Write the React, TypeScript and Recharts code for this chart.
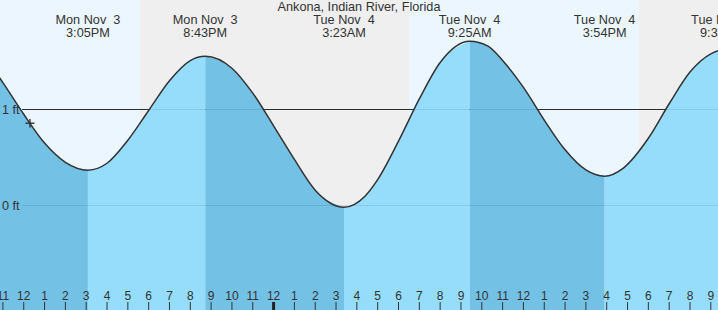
import React from "react";
import { ComposedChart, XAxis, YAxis, Area, Line, Scatter } from "recharts";

// Hours relative to Tue Nov 4, 00:00
const X_DOMAIN: [number, number] = [-13.14, 21.345];
const Y_DOMAIN: [number, number] = [-1.0885, 2.1406];

const TITLE = "Ankona, Indian River, Florida";

// Tide curve (hours, feet)
const TIDE_HOURS = [
  -14, -13, -12, -11, -10, -8.917, -8, -7, -6, -5, -4, -3.283, -2, -1, 0, 1, 2, 3.383, 4.4, 5, 6, 7, 8, 9.417, 10.3,
  11, 12, 13, 14, 15, 15.9, 16.8, 18, 19, 20, 21, 21.533, 22,
];
const TIDE_FT = [
  1.59, 1.28, 0.95, 0.65, 0.45, 0.368, 0.44, 0.68, 0.99, 1.3, 1.51, 1.555, 1.43, 1.17, 0.83, 0.48, 0.16, -0.018, 0.1,
  0.27, 0.67, 1.11, 1.49, 1.711, 1.66, 1.51, 1.23, 0.89, 0.58, 0.37, 0.305, 0.39, 0.7, 1.06, 1.39, 1.58, 1.62, 1.6,
];

// High / low tides
const EXTREME_HOURS = [-8.917, -3.283, 3.383, 9.417, 15.9, 21.533];
const EXTREME_FT = [0.368, 1.555, -0.018, 1.711, 0.305, 1.62];
const EXTREME_DAY = ["Mon Nov  3", "Mon Nov  3", "Tue Nov  4", "Tue Nov  4", "Tue Nov  4", "Tue Nov  4"];
const EXTREME_TIME = ["3:05PM", "8:43PM", "3:23AM", "9:25AM", "3:54PM", "9:32PM"];

// Falling (high -> low) / rising (low -> high) segments
const SEGMENT_START = [-14, -8.917, -3.283, 3.383, 9.417, 15.9];
const SEGMENT_END = [-8.917, -3.283, 3.383, 9.417, 15.9, 22];
const SEGMENT_FALLING = [true, false, true, false, true, false];

// Night (sunset -> sunrise)
const NIGHT_START = [-6.417, 17.55];
const NIGHT_END = [6.503, 30.5];

// Hour ticks
const HOUR_TICKS = [
  -13, -12, -11, -10, -9, -8, -7, -6, -5, -4, -3, -2, -1, 0, 1, 2, 3, 4, 5, 6, 7, 8, 9, 10, 11, 12, 13, 14, 15, 16,
  17, 18, 19, 20, 21,
];
const HOUR_LABELS = [
  "11", "12", "1", "2", "3", "4", "5", "6", "7", "8", "9", "10", "11", "12", "1", "2", "3", "4", "5", "6", "7", "8",
  "9", "10", "11", "12", "1", "2", "3", "4", "5", "6", "7", "8", "9",
];

// Y labels
const Y_TICKS = [1, 0];
const Y_LABELS = ["1 ft", "0 ft"];

// Current-time marker
const NOW_HOUR = -11.7;
const NOW_FT = 0.857;

const GRID_START = -12.08;

const FONT = "'Liberation Sans', Arial, sans-serif";
const TEXT = "#333";
const DAY_BG = "#ecf6fe";
const NIGHT_BG = "#efefef";
const FALL_FILL = "#73c1e5";
const RISE_FILL = "#96ddfc";

const tideData = TIDE_HOURS.map((t, i) => ({ t, h: TIDE_FT[i] }));
const segments = SEGMENT_START.map((s, i) => ({
  data: tideData.filter((d) => d.t >= s && d.t <= SEGMENT_END[i]),
  falling: SEGMENT_FALLING[i],
}));
const extremeData = EXTREME_HOURS.map((t, i) => ({
  t,
  h: EXTREME_FT[i],
  day: EXTREME_DAY[i],
  time: EXTREME_TIME[i],
}));
const hourData = HOUR_TICKS.map((t, i) => ({ t, h: Y_DOMAIN[0], label: HOUR_LABELS[i] }));
const yLabelData = Y_TICKS.map((h, i) => ({ t: X_DOMAIN[0], h, label: Y_LABELS[i] }));
const dayBg = [
  { t: X_DOMAIN[0] - 2, h: Y_DOMAIN[1] },
  { t: X_DOMAIN[1] + 2, h: Y_DOMAIN[1] },
];
const nightBgs = NIGHT_START.map((s, i) => [
  { t: s, h: Y_DOMAIN[1] },
  { t: NIGHT_END[i], h: Y_DOMAIN[1] },
]);
const gridLine = (v: number) => [
  { t: GRID_START, h: v },
  { t: X_DOMAIN[1] + 2, h: v },
];
const nowData = [{ t: NOW_HOUR, h: NOW_FT }];

const TopLabel = (p: any) => (
  <g>
    <text x={p.cx} y={24} textAnchor="middle" fontFamily={FONT} fontSize={12.7} fill={TEXT} style={{ whiteSpace: "pre" }}>
      {p.payload.day}
    </text>
    <text x={p.cx} y={36.5} textAnchor="middle" fontFamily={FONT} fontSize={12.7} fill={TEXT}>
      {p.payload.time}
    </text>
  </g>
);

const HourTick = (p: any) => {
  const midnight = p.payload.t === 0;
  return (
    <g>
      <line
        x1={p.cx}
        x2={p.cx}
        y1={302}
        y2={310}
        stroke={midnight ? "#222" : "#333"}
        strokeWidth={midnight ? 3 : 1}
      />
      <text x={p.cx} y={299.5} textAnchor="middle" fontFamily={FONT} fontSize={12} fill={TEXT}>
        {p.payload.label}
      </text>
    </g>
  );
};

const YLabel = (p: any) => (
  <text x={p.cx + 2} y={p.cy + 4.5} textAnchor="start" fontFamily={FONT} fontSize={12.7} fill={TEXT}>
    {p.payload.label}
  </text>
);

const NowMarker = (p: any) => (
  <g stroke="#333" strokeWidth={1.4}>
    <line x1={p.cx - 4.5} x2={p.cx + 4.5} y1={p.cy} y2={p.cy} />
    <line x1={p.cx} x2={p.cx} y1={p.cy - 4.2} y2={p.cy + 4.2} />
  </g>
);

const Title = () => (
  <text x={359} y={11.3} textAnchor="middle" fontFamily={FONT} fontSize={12.7} fill={TEXT}>
    {TITLE}
  </text>
);

export default function App() {
  return (
    <div style={{ position: "absolute", left: 0, top: 0, width: 718, height: 310 }}>
      <ComposedChart width={718} height={310} margin={{ top: 0, right: 0, bottom: 0, left: 0 }}>
        <XAxis type="number" dataKey="t" domain={X_DOMAIN} allowDataOverflow hide />
        <YAxis type="number" dataKey="h" domain={Y_DOMAIN} allowDataOverflow hide />
        <Area
          data={dayBg}
          dataKey="h"
          type="linear"
          stroke="none"
          fill={DAY_BG}
          fillOpacity={1}
          baseValue="dataMin"
          isAnimationActive={false}
        />
        {nightBgs.map((d, i) => (
          <Area
            key={"n" + i}
            data={d}
            dataKey="h"
            type="linear"
            stroke="none"
            fill={NIGHT_BG}
            fillOpacity={1}
            baseValue="dataMin"
            isAnimationActive={false}
          />
        ))}
        <Area
          data={gridLine(1)}
          dataKey="h"
          type="linear"
          stroke="#333"
          strokeWidth={1}
          fill="none"
          baseValue="dataMin"
          isAnimationActive={false}
        />
        {segments.map((s, i) => (
          <Area
            key={"s" + i}
            data={s.data}
            dataKey="h"
            type="monotone"
            stroke="none"
            fill={s.falling ? FALL_FILL : RISE_FILL}
            fillOpacity={1}
            baseValue="dataMin"
            isAnimationActive={false}
          />
        ))}
        {[1, 0].map((v) => (
          <Area
            key={"g" + v}
            data={gridLine(v)}
            dataKey="h"
            type="linear"
            stroke="rgba(0,0,0,0.09)"
            strokeWidth={1}
            fill="none"
            baseValue="dataMin"
            isAnimationActive={false}
          />
        ))}
        <Line
          data={tideData}
          dataKey="h"
          type="monotone"
          stroke="#333"
          strokeWidth={1.5}
          dot={false}
          activeDot={false}
          isAnimationActive={false}
        />
        <Scatter data={nowData} dataKey="h" shape={NowMarker} isAnimationActive={false} />
        <Scatter data={extremeData} dataKey="h" shape={TopLabel} isAnimationActive={false} />
        <Scatter data={hourData} dataKey="h" shape={HourTick} isAnimationActive={false} />
        <Scatter data={yLabelData} dataKey="h" shape={YLabel} isAnimationActive={false} />
        <Scatter data={[{ t: 0, h: 0 }]} dataKey="h" shape={Title} isAnimationActive={false} />
      </ComposedChart>
    </div>
  );
}
